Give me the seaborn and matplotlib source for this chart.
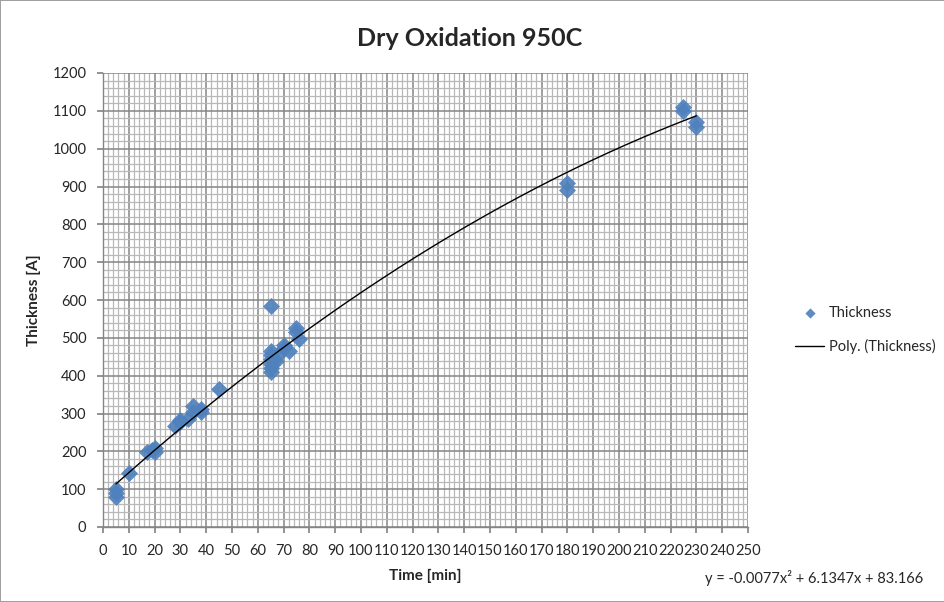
import numpy as np
import pandas as pd
import matplotlib
matplotlib.use("Agg")
import matplotlib.pyplot as plt
from matplotlib.ticker import MultipleLocator
import seaborn as sns

# ---- data ----
time_min = [5, 5, 5, 10, 17, 19, 20, 20, 28, 30, 30, 33, 35, 35, 38, 38, 45,
            65, 65, 65, 65, 65, 65, 65, 67, 68, 70, 70, 72, 75, 75, 76,
            180, 180, 225, 225, 230, 230]
thickness = [100, 90, 80, 142, 197, 203, 208, 198, 268, 278, 282, 285, 320, 305, 312, 305, 365,
             585, 465, 455, 445, 430, 420, 410, 440, 455, 472, 482, 465, 525, 515, 497,
             908, 892, 1110, 1100, 1070, 1058]
poly_coef = [-0.0077, 6.1347, 83.166]   # trendline y = a x^2 + b x + c
trend_range = [5, 230]

title = "Dry Oxidation 950C"
x_label = "Time [min]"
y_label = "Thickness [A]"
series_name = "Thickness"
trend_name = "Poly. (Thickness)"
equation = "y = -0.0077x² + 6.1347x + 83.166"

# ---- styling ----
sns.set_theme(style="white")
plt.rcParams['font.family'] = ['Lato', 'DejaVu Sans']

fig = plt.figure(figsize=(9.45, 6.02), dpi=100)
fig.patch.set_edgecolor('#a0a0a0')
fig.patch.set_linewidth(1.2)
ax = fig.add_axes([103/945, 1-527/602, (748-103)/945, (527-73)/602])

df = pd.DataFrame({"Time": time_min, "Thickness": thickness})
xt = np.linspace(trend_range[0], trend_range[1], 300)
trend = pd.DataFrame({"Time": xt, "Thickness": np.polyval(poly_coef, xt)})

# grid
ax.set_xlim(0, 250)
ax.set_ylim(0, 1200)
ax.xaxis.set_major_locator(MultipleLocator(10))
ax.xaxis.set_minor_locator(MultipleLocator(2))
ax.yaxis.set_major_locator(MultipleLocator(100))
ax.yaxis.set_minor_locator(MultipleLocator(20))
ax.grid(which='major', color='#858585', linewidth=1.1)
ax.grid(which='minor', color='#b8b8b8', linewidth=0.9)
ax.set_axisbelow(True)

sns.scatterplot(data=df, x="Time", y="Thickness", marker='D', s=75,
                color='#4F81BD', edgecolor='#4F81BD', linewidth=0, alpha=0.92,
                ax=ax, label=series_name, zorder=3)
sns.lineplot(data=trend, x="Time", y="Thickness", color='black', linewidth=1.0,
             ax=ax, label=trend_name, zorder=4)

for s in ['top', 'right']:
    ax.spines[s].set_visible(False)
for s in ['left', 'bottom']:
    ax.spines[s].set_color('#858585')
    ax.spines[s].set_linewidth(1.0)

ax.tick_params(axis='both', which='major', labelsize=10.5, length=4,
               color='#858585', direction='out', bottom=True, left=True, pad=8)
ax.tick_params(axis='both', which='minor', length=0)

ax.set_xlabel(x_label, fontsize=11, fontweight='bold', labelpad=8)
ax.set_ylabel(y_label, fontsize=11, fontweight='bold', labelpad=8)
fig.text(470/945, 1-38/602, title, ha='center', va='center', fontsize=18, fontweight='bold')

ax.legend(loc='center left', bbox_to_anchor=(782/945, 1-330/602),
          bbox_transform=fig.transFigure, frameon=False, fontsize=10.5,
          handlelength=2.0, handletextpad=0.3, labelspacing=1.3, markerscale=0.6)

fig.text(705/945, 1-578/602, equation, ha='left', va='center', fontsize=10.5)

fig.savefig("out.png", dpi=100)
